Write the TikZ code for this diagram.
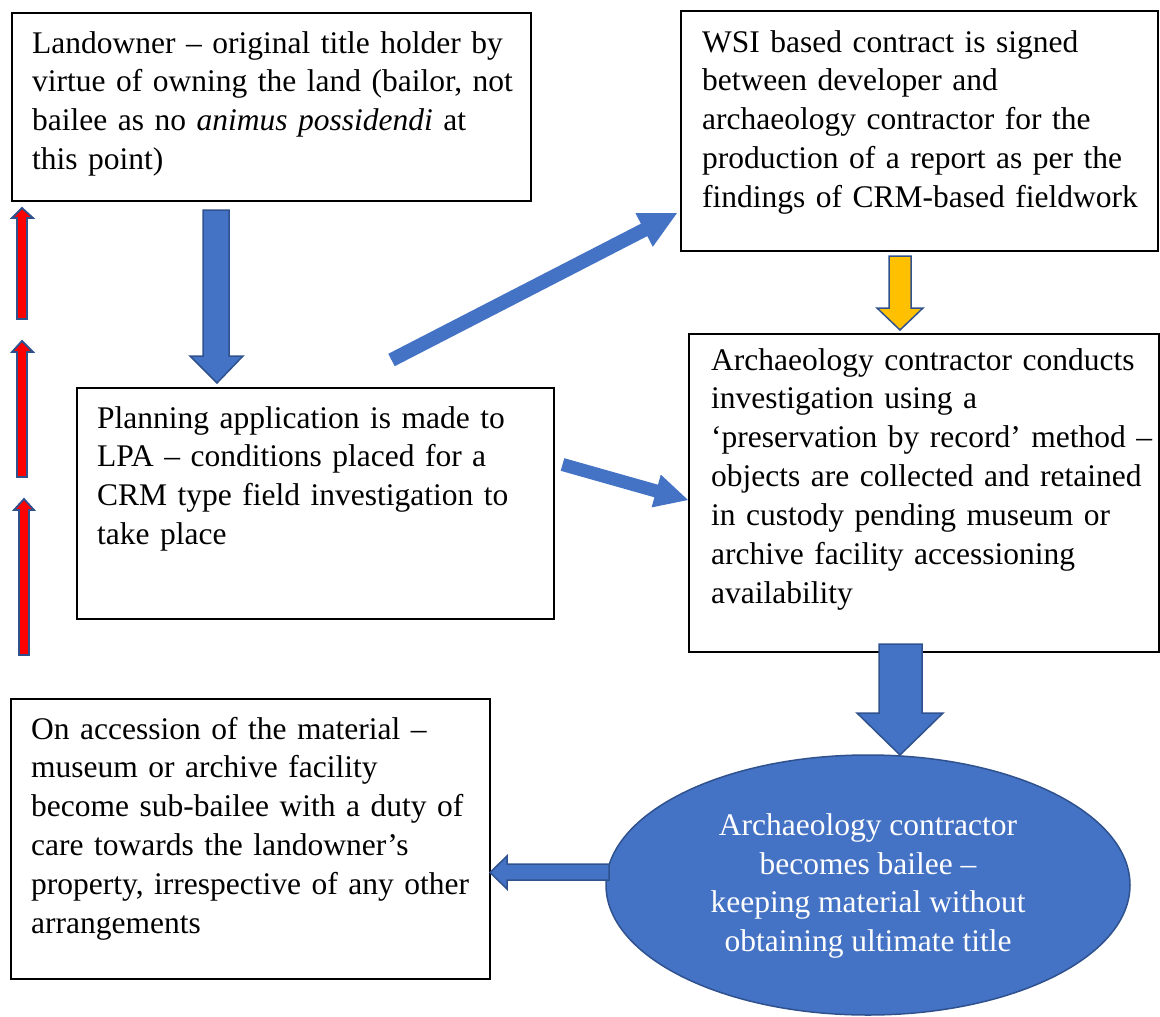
\documentclass[tikz,border=0pt]{standalone}
\usepackage{fontspec}
\setmainfont{Liberation Serif}
\usetikzlibrary{shapes.geometric}
\definecolor{accent}{HTML}{4472C4}
\definecolor{accentdark}{HTML}{2F528F}
\definecolor{gold}{HTML}{FFC000}
\begin{document}
\begin{tikzpicture}[x=1pt,y=-1pt,
  box/.style={draw=black, line width=1.8pt, fill=white, anchor=north west, inner sep=0pt},
  txt/.style={anchor=base west, inner sep=0pt, text width=600pt, align=left,
              font=\fontsize{31.5}{38.9}\selectfont},
  blockarrow/.style={fill=accent, draw=accentdark, line width=1.5pt, line join=miter},
  flatarrow/.style={fill=accent, draw=none},
  redarrow/.style={fill=red, draw=accentdark, line width=1.8pt, line join=miter}]
\useasboundingbox (0,0) rectangle (1160,1017);

% boxes
\node[box, minimum width=519pt, minimum height=188pt] (land) at (11,12) {};
\node[box, minimum width=477pt, minimum height=240pt] (wsi) at (680,10) {};
\node[box, minimum width=477pt, minimum height=231pt] (plan) at (76,387) {};
\node[box, minimum width=470pt, minimum height=318pt] (invest) at (688,333) {};
\node[box, minimum width=479pt, minimum height=280pt] (access) at (10,698) {};
\node[ellipse, fill=accent, draw=accentdark, line width=1.5pt,
      minimum width=524pt, minimum height=260pt, inner sep=0pt] (bailee) at (868,885) {};

% box texts
\node[txt] (landtxt) at (32,53) {Landowner -- original title holder by\\
  virtue of owning the land (bailor, not\\
  bailee as no \textit{animus possidendi} at\\
  this point)};
\node[txt] (wsitxt) at (702,52) {WSI based contract is signed\\
  between developer and\\
  archaeology contractor for the\\
  production of a report as per the\\
  findings of CRM-based fieldwork};
\node[txt] (plantxt) at (97,428) {Planning application is made to\\
  LPA -- conditions placed for a\\
  CRM type field investigation to\\
  take place};
\node[txt] (investtxt) at (711,370) {Archaeology contractor conducts\\
  investigation using a\\
  ‘preservation by record’ method --\\
  objects are collected and retained\\
  in custody pending museum or\\
  archive facility accessioning\\
  availability};
\node[txt] (accesstxt) at (31,739) {On accession of the material --\\
  museum or archive facility\\
  become sub-bailee with a duty of\\
  care towards the landowner’s\\
  property, irrespective of any other\\
  arrangements};
\node[inner sep=0pt, align=center, text=white,
      font=\fontsize{31.5}{38.9}\selectfont] (baileetxt) at (868,886)
  {Archaeology contractor\\ becomes bailee --\\ keeping material without\\ obtaining ultimate title};

% landowner -> planning application
\draw[blockarrow] (203,210) -- (229,210) -- (229,356) -- (243,356) -- (217,383)
  -- (190,356) -- (203,356) -- cycle;
% planning application -> WSI contract
\fill[flatarrow] (394.7,366.2) -- (647.3,236.1) -- (652.8,246.8) -- (677,213)
  -- (635.4,213.0) -- (640.9,223.7) -- (388.3,353.8) -- cycle;
% planning application -> investigation
\fill[flatarrow] (564.3,458.2) -- (658.0,484.7) -- (660.8,474.6) -- (688,500)
  -- (651.6,507.4) -- (654.4,497.3) -- (560.7,470.8) -- cycle;
% WSI contract -> investigation
\draw[blockarrow, fill=gold] (889,256) -- (911,256) -- (911,308) -- (923,308)
  -- (900,330) -- (877,308) -- (889,308) -- cycle;
% investigation -> bailee
\draw[blockarrow] (879,644) -- (922,644) -- (922,713) -- (943,713) -- (900,755)
  -- (857,713) -- (879,713) -- cycle;
% bailee -> accession
\draw[blockarrow] (609,864) -- (507,864) -- (507,856) -- (490,872.5) -- (507,889)
  -- (507,880) -- (609,880) -- cycle;

% upward title arrows on the left
\draw[redarrow] (17,319) -- (17,218) -- (12,218) -- (22,208) -- (33,218) -- (27,218)
  -- (27,319) -- cycle;
\draw[redarrow] (17,477) -- (17,352) -- (12,352) -- (22,341) -- (33,352) -- (27,352)
  -- (27,477) -- cycle;
\draw[redarrow] (19,655) -- (19,510) -- (14,510) -- (24,499) -- (34,510) -- (29,510)
  -- (29,655) -- cycle;
\end{tikzpicture}
\end{document}
